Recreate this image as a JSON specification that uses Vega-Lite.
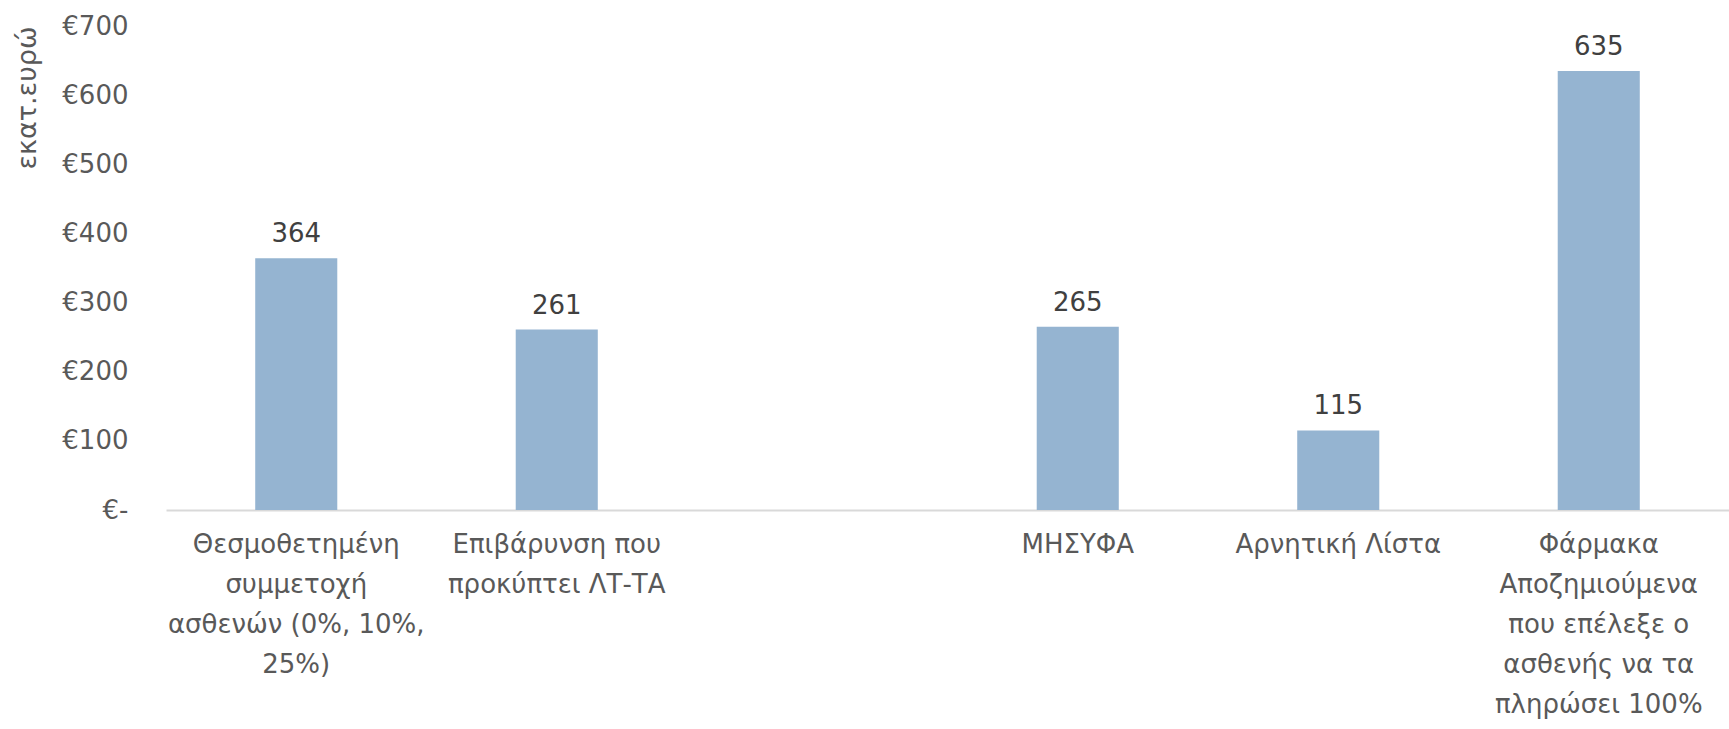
{
  "$schema": "https://vega.github.io/schema/vega-lite/v6.json",
  "width": 1563,
  "height": 484,
  "autosize": {"type": "none"},
  "padding": {"left": 166, "top": 26, "right": 0, "bottom": 219},
  "background": "white",
  "config": {"view": {"stroke": null}},
  "data": {
    "values": [
      {"category": "Θεσμοθετημένη|συμμετοχή|ασθενών (0%, 10%,|25%)", "value": 364},
      {"category": "Επιβάρυνση που|προκύπτει ΛΤ-ΤΑ", "value": 261},
      {"category": " ", "value": null},
      {"category": "ΜΗΣΥΦΑ", "value": 265},
      {"category": "Αρνητική Λίστα", "value": 115},
      {"category": "Φάρμακα|Αποζημιούμενα|που επέλεξε ο|ασθενής να τα|πληρώσει 100%", "value": 635}
    ]
  },
  "encoding": {
    "x": {
      "field": "category",
      "type": "nominal",
      "sort": null,
      "scale": {
        "domain": [
          "Θεσμοθετημένη|συμμετοχή|ασθενών (0%, 10%,|25%)",
          "Επιβάρυνση που|προκύπτει ΛΤ-ΤΑ",
          " ",
          "ΜΗΣΥΦΑ",
          "Αρνητική Λίστα",
          "Φάρμακα|Αποζημιούμενα|που επέλεξε ο|ασθενής να τα|πληρώσει 100%"
        ],
        "paddingInner": 0.685,
        "paddingOuter": 0.3425
      },
      "axis": {
        "title": null,
        "labelAngle": 0,
        "labelExpr": "split(datum.value, '|')",
        "labelFont": "DejaVu Sans",
        "labelFontSize": 26,
        "labelColor": "#595959",
        "labelLineHeight": 40,
        "labelPadding": 21,
        "labelBaseline": "top",
        "ticks": false,
        "domainColor": "#d9d9d9",
        "domainWidth": 2,
        "labelLimit": 400
      }
    },
    "y": {
      "field": "value",
      "type": "quantitative",
      "scale": {"domain": [0, 700]},
      "axis": {
        "values": [0, 100, 200, 300, 400, 500, 600, 700],
        "labelExpr": "datum.value == 0 ? '€-' : '€' + datum.value",
        "labelFont": "DejaVu Sans",
        "labelFontSize": 26,
        "labelColor": "#595959",
        "labelPadding": 38,
        "ticks": false,
        "domain": false,
        "grid": false,
        "title": "εκατ.ευρώ",
        "titleFont": "DejaVu Sans",
        "titleFontSize": 27,
        "titleFontWeight": "normal",
        "titleColor": "#595959",
        "titleAnchor": "end",
        "titlePadding": 20
      }
    }
  },
  "layer": [
    {"mark": {"type": "bar", "color": "#95b4d1"}},
    {
      "mark": {"type": "text", "dy": -24, "font": "DejaVu Sans", "fontSize": 26, "color": "#404040"},
      "encoding": {"text": {"field": "value", "type": "quantitative"}}
    }
  ]
}
